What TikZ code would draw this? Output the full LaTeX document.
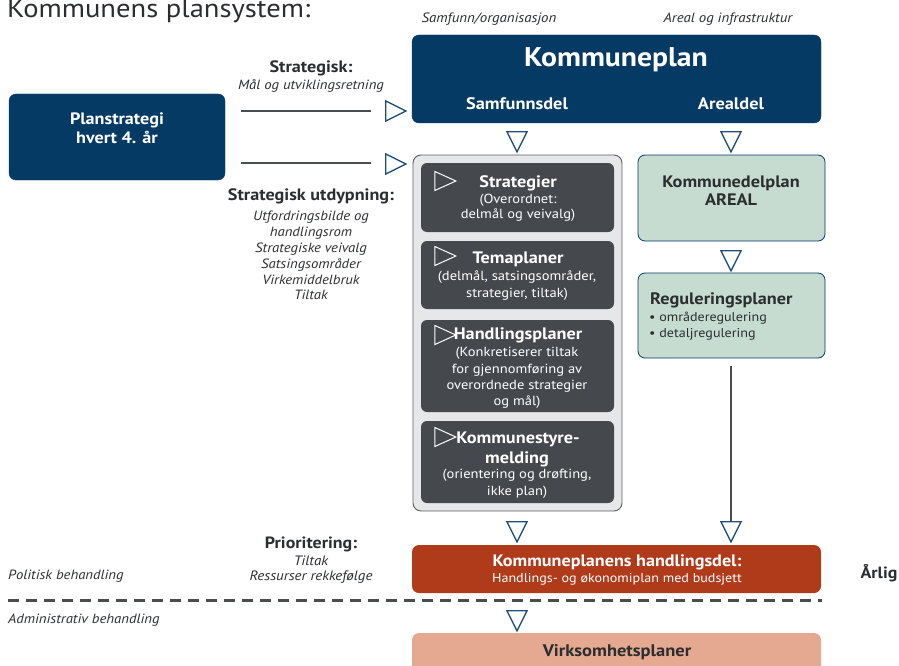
\documentclass[tikz,border=0pt]{standalone}
\usepackage{fontspec}
\setmainfont[FakeStretch=1.1]{PT Sans}
\usetikzlibrary{shapes.geometric}
\definecolor{navy}{HTML}{043A64}
\definecolor{navyline}{HTML}{1F4E79}
\definecolor{darkbox}{HTML}{45494D}
\definecolor{contfill}{HTML}{E6E7E8}
\definecolor{contline}{HTML}{5A5D60}
\definecolor{greenbox}{HTML}{C6DCD1}
\definecolor{rust}{HTML}{B03B1B}
\definecolor{salmon}{HTML}{E5A891}
\definecolor{linegray}{HTML}{4A4D50}
\definecolor{txtdark}{HTML}{2B2D2F}
\newcommand{\fs}[1]{\fontsize{#1}{#1}\selectfont}
\tikzset{
  box/.style={rectangle, rounded corners=7pt, inner sep=0pt},
  navybox/.style={box, fill=navy, draw=navy},
  darkb/.style={box, fill=darkbox, rounded corners=6pt},
  greenb/.style={box, fill=greenbox, draw=navy, line width=0.8pt},
  tri/.style={isosceles triangle, isosceles triangle apex angle=60, isosceles triangle stretches,
     minimum width=20pt, minimum height=20pt, inner sep=0pt, draw=navyline, line width=1.3pt},
  trid/.style={tri, shape border rotate=270},
  trir/.style={tri, shape border rotate=0},
  wtri/.style={isosceles triangle, isosceles triangle stretches, minimum width=19pt, minimum height=21pt,
     inner sep=0pt, draw=white, line width=1pt},
  lbl/.style={inner sep=0pt, align=center, text=txtdark},
  wt/.style={inner sep=0pt, align=center, text=white},
  conn/.style={draw=linegray, line width=1.6pt},
}
\begin{document}
\begin{tikzpicture}[x=1pt,y=-1pt]
\useasboundingbox (0,0) rectangle (899,666);
% title
\node[lbl, anchor=base west] (title) at (7,18) {\fs{26}Kommunens plansystem:};
% column headers
\node[lbl] (hsam) at (489,19) {\fs{13.5}\itshape Samfunn/organisasjon};
\node[lbl] (hareal) at (728,19) {\fs{13.5}\itshape Areal og infrastruktur};
% Planstrategi
\node[navybox, minimum width=216pt, minimum height=86pt] (plan) at (117,137) {};
\node[wt] (plantxt) at (117,128) {\fs{16.5}\bfseries Planstrategi\\[2pt]\fs{16.5}\bfseries hvert 4. år};
% Kommuneplan
\node[navybox, minimum width=409pt, minimum height=88pt] (kp) at (616.5,79) {};
\node[wt] (kptxt) at (616,60) {\fs{27}\bfseries Kommuneplan};
\node[wt] (samf) at (517,104) {\fs{16.7}\bfseries Samfunnsdel};
\node[wt] (areal) at (731,104) {\fs{16.7}\bfseries Arealdel};
% left labels
\node[lbl] (strat) at (311,68) {\fs{16.5}\bfseries Strategisk:};
\node[lbl] (stratsub) at (311,86) {\fs{13.4}\itshape Mål og utviklingsretning};
\node[lbl] (utd) at (311,196) {\fs{16.5}\bfseries Strategisk utdypning:};
\node[lbl] (utdsub) at (311,255) {\fs{13.4}\itshape Utfordringsbilde og\\[2.6pt]\fs{13.4}\itshape handlingsrom\\[2.6pt]\fs{13.4}\itshape Strategiske veivalg\\[2.6pt]
  \fs{13.4}\itshape Satsingsområder\\[2.6pt]\fs{13.4}\itshape Virkemiddelbruk\\[2.6pt]\fs{13.4}\itshape Tiltak};
% right-pointing triangles and lines
\node[trir] (t1) at (392,111) {};
\node[trir] (t2) at (392,164) {};
\coordinate (l1) at (241,111);
\coordinate (l2) at (241,163);
\coordinate (e1) at (371,111);
\coordinate (e2) at (371,163);
\draw[conn] (l1) -- (e1);
\draw[conn] (l2) -- (e2);
% down triangles under Kommuneplan
\node[trid] (d1) at (517,138) {};
\node[trid] (d2) at (731,138) {};
% container
\node[box, fill=contfill, draw=contline, line width=0.9pt, minimum width=209pt, minimum height=356pt, rounded corners=8pt] (cont) at (517.5,333) {};
% dark boxes
\node[darkb, minimum width=193pt, minimum height=69pt] (b1) at (517.5,197.5) {};
\node[darkb, minimum width=193pt, minimum height=68pt] (b2) at (517.5,275) {};
\node[darkb, minimum width=193pt, minimum height=92pt] (b3) at (517.5,366) {};
\node[darkb, minimum width=193pt, minimum height=82pt] (b4) at (517.5,462) {};
\node[wtri] (w1) at (441,181) {};
\node[wtri] (w2) at (441,256) {};
\node[wtri] (w3) at (441,335) {};
\node[wtri] (w4) at (441,437) {};
\node[wt] (b1t) at (518,183) {\fs{16.6}\bfseries Strategier};
\node[wt] (b1s) at (518,208) {\fs{13.2}(Overordnet:\\[1.8pt]\fs{13.2}delmål og veivalg)};
\node[wt] (b2t) at (518,259) {\fs{16.6}\bfseries Temaplaner};
\node[wt] (b2s) at (517,286) {\fs{13.2}(delmål, satsingsområder,\\[3.5pt]\fs{13.2}strategier, tiltak)};
\node[wt] (b3t) at (518,335) {\fs{16.6}\bfseries Handlingsplaner};
\node[wt] (b3s) at (517,378) {\fs{13.2}(Konkretiserer tiltak\\[3pt]\fs{13.2}for gjennomføring av\\[3pt]\fs{13.2}overordnede strategier\\[3pt]\fs{13.2}og mål)};
\node[wt] (b4t) at (518,439) {\fs{16.6}\bfseries Kommunestyre-};
\node[wt] (b4m) at (517,459) {\fs{16.6}\bfseries melding};
\node[wt] (b4s) at (517,484) {\fs{13.2}(orientering og drøfting,\\[3.5pt]\fs{13.2}ikke plan)};
% right column
\node[greenb, minimum width=187pt, minimum height=86pt] (kdp) at (731.5,198) {};
\node[lbl] (kdpt) at (731,191) {\fs{16.6}\bfseries Kommunedelplan\\[2pt]\fs{16.6}\bfseries AREAL};
\node[trid] (d3) at (731,257) {};
\node[greenb, minimum width=187pt, minimum height=85pt] (reg) at (731.5,315.5) {};
\node[lbl, anchor=west] (regt) at (650,300) {\fs{16.6}\bfseries Reguleringsplaner};
\node[lbl, anchor=west] (reg1) at (649,318) {\fs{12.8}• områderegulering};
\node[lbl, anchor=west] (reg2) at (649,334) {\fs{12.8}• detaljregulering};
\node[trid] (d4) at (731,528) {};
\node[trid] (d5) at (517,528) {};
\coordinate (vtop) at (731,366);
\draw[conn, line width=2pt] (vtop) -- (d4.north);
% handlingsdel
\node[box, fill=rust, minimum width=409pt, minimum height=48pt] (hd) at (616.5,569) {};
\node[wt] (hdt) at (617,562) {\fs{16.5}\bfseries Kommuneplanens handlingsdel:};
\node[wt] (hds) at (617,579) {\fs{12.8}Handlings- og økonomiplan med budsjett};
\node[lbl] (arlig) at (879,573) {\fs{16.3}\bfseries Årlig};
\node[lbl] (prio) at (311,544) {\fs{16.3}\bfseries Prioritering:};
\node[lbl] (prio1) at (311,561) {\fs{13.6}\itshape Tiltak};
\node[lbl] (prio2) at (311,577) {\fs{13.6}\itshape Ressurser rekkefølge};
\node[lbl, anchor=west] (pol) at (8,576) {\fs{13.4}\itshape Politisk behandling};
% dashed separator
\coordinate (dl) at (8,600);
\coordinate (dr) at (822,600);
\draw[draw=linegray, line width=3pt, dash pattern=on 11pt off 7pt] (dl) -- (dr);
\node[trid] (d6) at (517,617) {};
\node[lbl, anchor=west] (adm) at (8,620) {\fs{13.4}\itshape Administrativ behandling};
% Virksomhetsplaner
\node[box, fill=salmon, minimum width=409pt, minimum height=42pt] (vp) at (616.5,654) {};
\node[lbl] (vpt) at (617,652) {\fs{16.8}\bfseries Virksomhetsplaner};
\end{tikzpicture}
\end{document}
